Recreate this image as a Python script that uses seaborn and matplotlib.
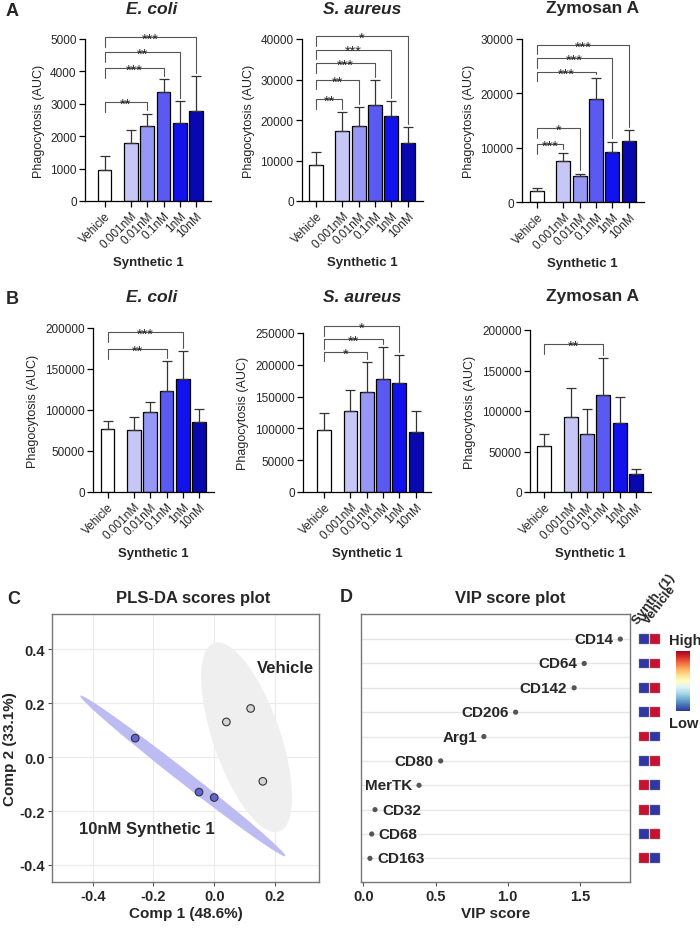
import numpy as np
import pandas as pd
import seaborn as sns
import matplotlib as mpl
import matplotlib.pyplot as plt
from matplotlib.patches import Ellipse

# --- datos de las barras (media y SD) ---
doses = ['Vehicle', '0.001nM', '0.01nM', '0.1nM', '1nM', '10nM']
bar_colors = {'Vehicle': '#ffffff', '0.001nM': '#c6c6f7', '0.01nM': '#9797f5',
              '0.1nM': '#5a5af2', '1nM': '#1212ee', '10nM': '#0808b0'}

a_ecoli_mean = [950, 1800, 2300, 3370, 2400, 2780]
a_ecoli_sd = [430, 400, 400, 400, 690, 1070]
a_ecoli_sig_to = [2, 3, 4, 5]
a_ecoli_sig_y = [3050, 4100, 4600, 5060]
a_ecoli_sig = ['**', '***', '**', '***']

a_saureus_mean = [9000, 17400, 18500, 23800, 20900, 14200]
a_saureus_sd = [3100, 4600, 4600, 6000, 3700, 4100]
a_saureus_sig_to = [1, 2, 3, 4, 5]
a_saureus_sig_y = [25200, 29950, 34000, 37400, 40700]
a_saureus_sig = ['**', '**', '***', '***', '*']

a_zymo_mean = [2100, 7600, 4700, 18900, 9200, 11300]
a_zymo_sd = [500, 1500, 500, 4000, 1900, 1900]
a_zymo_sig_to = [1, 2, 3, 4, 5]
a_zymo_sig_y = [10700, 13600, 24000, 26500, 28950]
a_zymo_sig = ['***', '*', '***', '***', '***']

b_ecoli_mean = [77000, 76000, 98000, 123000, 138000, 85000]
b_ecoli_sd = [9000, 16000, 12000, 37000, 34000, 16000]
b_ecoli_sig_to = [3, 4]
b_ecoli_sig_y = [174700, 195000]
b_ecoli_sig = ['**', '***']

b_saureus_mean = [98000, 127000, 158000, 178000, 171000, 94000]
b_saureus_sd = [26000, 34000, 46000, 50000, 44000, 33000]
b_saureus_sig_to = [2, 3, 4]
b_saureus_sig_y = [220500, 240500, 261000]
b_saureus_sig = ['*', '**', '*']

b_zymo_mean = [57000, 92000, 72000, 120000, 85000, 22000]
b_zymo_sd = [15000, 36000, 30000, 45000, 32000, 6000]
b_zymo_sig_to = [3]
b_zymo_sig_y = [182300]
b_zymo_sig = ['**']

# --- PLS-DA ---
pls_comp1 = [0.04, 0.12, 0.16, -0.26, -0.05, 0.0]
pls_comp2 = [0.13, 0.18, -0.09, 0.07, -0.13, -0.15]
pls_group = ['Vehicle', 'Vehicle', 'Vehicle', 'Synth', 'Synth', 'Synth']

# --- VIP ---
vip_markers = ['CD14', 'CD64', 'CD142', 'CD206', 'Arg1', 'CD80', 'MerTK', 'CD32', 'CD68', 'CD163']
vip_scores = [1.78, 1.53, 1.46, 1.055, 0.835, 0.536, 0.386, 0.081, 0.058, 0.046]
vip_synth = [-1, -1, -1, -1, 1, -1, 1, 1, -1, 1]     # 1 = alto, -1 = bajo
vip_vehicle = [1, 1, 1, 1, -1, 1, -1, -1, 1, -1]

W, H = 700, 929
sns.set_style('ticks')
plt.rcParams['font.family'] = ['Liberation Sans', 'DejaVu Sans']

fig = plt.figure(figsize=(W / 100, H / 100), dpi=100)


def box(l, t, r, b):
    return [l / W, 1 - b / H, (r - l) / W, (b - t) / H]


def ftext(x, y, s, **kw):
    fig.text(x / W, 1 - y / H, s, ha='center', va='center', **kw)


# posiciones de las barras: hueco entre Vehicle y el resto
xpos = np.arange(6) + np.r_[0, [0.62] * 5]
unit = 16.3  # px por unidad de x


def bar_panel(left, top, bottom, lpad, means, sds, ymax, ystep, sig_to, sig_y, sig_lab):
    right = left + (lpad + xpos[-1] + 0.92) * unit
    ax = fig.add_axes(box(left, top, right, bottom))
    df = pd.DataFrame({'Dosis': doses, 'x': xpos, 'AUC': means})
    sns.barplot(data=df, x='x', y='AUC', hue='Dosis', hue_order=doses, palette=bar_colors,
                native_scale=True, dodge=False, width=0.85, errorbar=None, saturation=1,
                edgecolor='black', linewidth=0.9, legend=False, ax=ax)
    tops = np.array(means) + np.array(sds)
    ax.errorbar(xpos, means, yerr=[np.zeros(6), sds], fmt='none', ecolor='#333333',
                elinewidth=0.9, capsize=3.5, capthick=0.9)
    # comparaciones contra Vehicle
    for t, y, lab in zip(sig_to, sig_y, sig_lab):
        x0, x1 = xpos[0], xpos[t]
        ax.plot([x0, x0, x1, x1], [y - 0.06 * ymax, y, y, tops[t] + 0.02 * ymax],
                color='#555555', lw=0.8, clip_on=False)
        ax.text((x0 + x1) / 2, y - 0.035 * ymax, lab, ha='center', va='baseline',
                fontsize=10.5, clip_on=False)
    ax.set_xlim(-lpad, xpos[-1] + 0.92)
    ax.set_ylim(0, ymax)
    ax.set_yticks(np.arange(0, ymax + 1, ystep))
    ax.set_xticks(xpos)
    ax.set_xticklabels(doses, rotation=45, ha='right', rotation_mode='anchor')
    ax.tick_params(labelsize=8.5, length=4, width=0.9, color='black', pad=2)
    ax.set_ylabel('Phagocytosis (AUC)', fontsize=9)
    ax.set_xlabel('Synthetic 1', fontsize=9.5, fontweight='bold', labelpad=4)
    sns.despine(ax=ax)
    for s in ['left', 'bottom']:
        ax.spines[s].set_color('black')
        ax.spines[s].set_linewidth(0.9)
    return ax


# fila A
bar_panel(85, 40, 202, 1.2, a_ecoli_mean, a_ecoli_sd, 5000, 1000, a_ecoli_sig_to, a_ecoli_sig_y, a_ecoli_sig)
bar_panel(302, 40, 202, 0.86, a_saureus_mean, a_saureus_sd, 40000, 10000, a_saureus_sig_to, a_saureus_sig_y, a_saureus_sig)
bar_panel(522, 40, 203, 0.92, a_zymo_mean, a_zymo_sd, 30000, 10000, a_zymo_sig_to, a_zymo_sig_y, a_zymo_sig)
# fila B
bar_panel(93, 329, 493, 0.89, b_ecoli_mean, b_ecoli_sd, 200000, 50000, b_ecoli_sig_to, b_ecoli_sig_y, b_ecoli_sig)
bar_panel(303, 334, 493, 1.29, b_saureus_mean, b_saureus_sd, 250000, 50000, b_saureus_sig_to, b_saureus_sig_y, b_saureus_sig)
bar_panel(530, 331, 493, 0.88, b_zymo_mean, b_zymo_sd, 200000, 50000, b_zymo_sig_to, b_zymo_sig_y, b_zymo_sig)

# titulos y letras
for y, row in [(9, 'A'), (297, 'B')]:
    ftext(12, y + 2, row, fontsize=13, fontweight='bold')
    ftext(152, y, 'E. coli', fontsize=12.5, fontweight='bold', style='italic')
    ftext(362, y, 'S. aureus', fontsize=12.5, fontweight='bold', style='italic')
    ftext(592, y, 'Zymosan A', fontsize=12.5, fontweight='bold')

# --- C: PLS-DA ---
axC = fig.add_axes(box(52, 615, 319, 883))
pls = pd.DataFrame({'c1': pls_comp1, 'c2': pls_comp2, 'g': pls_group})
ell_colors = {'Vehicle': '#efefef', 'Synth': '#bcbcf2'}
for g, d in pls.groupby('g'):
    cov = np.cov(d['c1'], d['c2'])
    vals, vecs = np.linalg.eigh(cov)
    ang = np.degrees(np.arctan2(vecs[1, 1], vecs[0, 1]))
    k = np.sqrt(5.991)
    e = Ellipse((d['c1'].mean(), d['c2'].mean()), 2 * k * np.sqrt(vals[1]), 2 * k * np.sqrt(max(vals[0], 0)),
                angle=ang, facecolor=ell_colors[g], edgecolor='none', zorder=1)
    axC.add_patch(e)
sns.scatterplot(data=pls, x='c1', y='c2', hue='g', palette={'Vehicle': '#d4d4d4', 'Synth': '#6464d6'},
                s=30, edgecolor='#333333', linewidth=0.8, legend=False, zorder=3, ax=axC)
axC.set_xlim(-0.534, 0.345)
axC.set_ylim(-0.463, 0.53)
axC.set_xticks([-0.4, -0.2, 0.0, 0.2])
axC.set_xticklabels(['-0.4', '-0.2', '0.0', '0.2'])
axC.set_yticks([-0.4, -0.2, 0.0, 0.2, 0.4])
axC.set_yticklabels(['-0.4', '-0.2', '0.0', '0.2', '0.4'])
axC.grid(True, color='#ebebeb', lw=0.8)
axC.set_axisbelow(True)
axC.tick_params(labelsize=10.5, length=3, color='#555555', pad=2)
for lab in axC.get_xticklabels() + axC.get_yticklabels():
    lab.set_fontweight('bold')
for s in axC.spines.values():
    s.set_color('#777777')
    s.set_linewidth(1)
axC.set_xlabel('Comp 1 (48.6%)', fontsize=11, fontweight='bold', labelpad=2)
axC.set_ylabel('Comp 2 (33.1%)', fontsize=11, fontweight='bold', labelpad=2)
axC.text(0.233, 0.33, 'Vehicle', fontsize=12, fontweight='bold', ha='center', va='center')
axC.text(-0.221, -0.264, '10nM Synthetic 1', fontsize=12, fontweight='bold', ha='center', va='center')
ftext(14, 600, 'C', fontsize=13, fontweight='bold')
ftext(193, 599, 'PLS-DA scores plot', fontsize=12, fontweight='bold')

# --- D: VIP ---
rows = np.arange(len(vip_markers))
axD = fig.add_axes(box(361, 615, 630, 883))
sns.scatterplot(x=vip_scores, y=rows, color='#555555', s=14, edgecolor='none', ax=axD)
axD.set_xlim(-0.016, 1.847)
axD.set_ylim(9.97, -1.03)
axD.set_xticks([0, 0.5, 1.0, 1.5])
axD.set_xticklabels(['0.0', '0.5', '1.0', '1.5'])
axD.set_yticks(rows)
axD.set_yticklabels([])
axD.grid(True, axis='y', color='#e6e6e6', lw=1)
axD.set_axisbelow(True)
axD.tick_params(axis='y', length=0)
axD.tick_params(axis='x', labelsize=10.5, length=3, color='#555555', pad=2)
for lab in axD.get_xticklabels():
    lab.set_fontweight('bold')
for s in axD.spines.values():
    s.set_color('#777777')
    s.set_linewidth(1)
for name, v, r in zip(vip_markers, vip_scores, rows):
    if v > 0.2:
        axD.annotate(name, (v, r), xytext=(-5, 0), textcoords='offset points',
                     ha='right', va='center', fontsize=11, fontweight='bold')
    else:
        axD.annotate(name, (v, r), xytext=(5, 0), textcoords='offset points',
                     ha='left', va='center', fontsize=11, fontweight='bold')
axD.set_xlabel('VIP score', fontsize=11, fontweight='bold', labelpad=2)
axD.set_ylabel('')
ftext(346, 598, 'D', fontsize=13, fontweight='bold')
ftext(510, 599, 'VIP score plot', fontsize=12, fontweight='bold')

# mini heatmap alto/bajo
axH = fig.add_axes(box(633, 615, 666, 883))
heat = pd.DataFrame({'col': [0] * len(rows) + [1] * len(rows),
                     'row': list(rows) * 2,
                     'nivel': vip_synth + vip_vehicle})
sns.scatterplot(data=heat, x='col', y='row', hue='nivel', palette={1: '#c8112f', -1: '#2f37a3'},
                marker='s', s=50, edgecolor='#888888', linewidth=0.3, legend=False, ax=axH)
axH.set_xlim(-1, 2)
axH.set_ylim(9.97, -1.03)
axH.axis('off')
axH.text(-0.4, -0.55, 'Synth. (1)', rotation=52, rotation_mode='anchor', ha='left', va='bottom',
         fontsize=9.5, fontweight='bold')
axH.text(0.6, -0.55, 'Vehicle', rotation=52, rotation_mode='anchor', ha='left', va='bottom',
         fontsize=9.5, fontweight='bold')

axCB = fig.add_axes(box(676, 652, 690, 712))
cb = fig.colorbar(mpl.cm.ScalarMappable(cmap='RdYlBu_r'), cax=axCB, ticks=[])
cb.outline.set_visible(False)
ftext(685, 641, 'High', fontsize=10.5, fontweight='bold')
ftext(684, 724, 'Low', fontsize=10.5, fontweight='bold')

plt.savefig('out.png', dpi=100)
